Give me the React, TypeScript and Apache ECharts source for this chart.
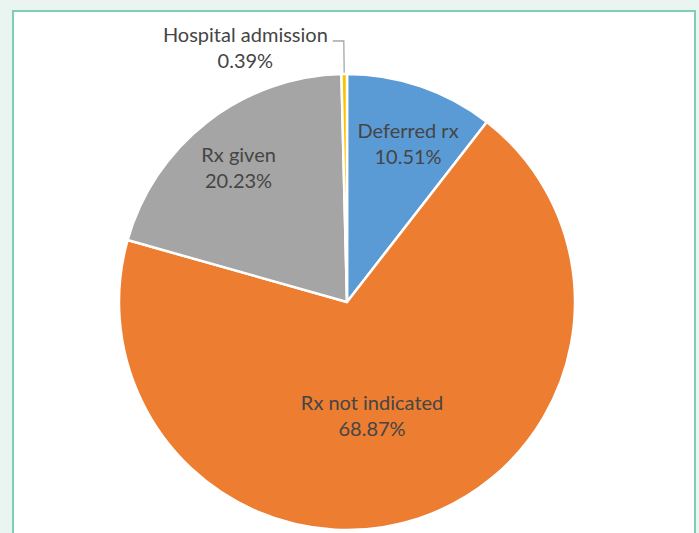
import React, { useEffect, useRef } from "react";
import * as echarts from "echarts";

const CATEGORIES = ["Deferred rx", "Rx not indicated", "Rx given", "Hospital admission"];
const VALUES = [10.51, 68.87, 20.23, 0.39];
const COLORS = ["#5B9BD5", "#ED7D31", "#A5A5A5", "#FFC000"];

// inside-label placement: radial fraction of the radius and angular nudge (deg)
const LABEL_RADIUS: (number | null)[] = [0.75, 0.51, 0.763, null];
const LABEL_NUDGE = [2.1, 5.7, -0.94, 0];

const CX = 347;
const CY = 302;
const R = 228;
const FONT = "Lato";
const TEXT_COLOR = "#454545";

export default function App() {
  const ref = useRef<HTMLDivElement>(null);

  useEffect(() => {
    if (!ref.current) return;
    const chart = echarts.init(ref.current, undefined, { renderer: "svg" });

    const total = VALUES.reduce((a, b) => a + b, 0);
    const mids: number[] = [];
    let acc = 0;
    VALUES.forEach((v) => {
      mids.push(((acc + v / 2) / total) * 360);
      acc += v;
    });

    const data = CATEGORIES.map((name, i) => {
      const item: any = {
        name,
        value: VALUES[i],
        itemStyle: { color: COLORS[i] },
      };
      if (LABEL_RADIUS[i] == null) {
        item.label = {
          position: "outside",
          distanceToLabelLine: 5,
          padding: [12, 0, 0, 0],
          formatter: (p: any) => `{c|${p.name}}\n{c|${Number(p.value).toFixed(2)}%}`,
          rich: {
            c: {
              align: "center",
              fontFamily: FONT,
              fontSize: 20,
              lineHeight: 26,
              color: TEXT_COLOR,
            },
          },
        };
        item.labelLine = {
          show: true,
          length: 33,
          length2: 11,
          smooth: false,
          lineStyle: { color: "#A6A6A6", width: 1.3 },
        };
      }
      return item;
    });

    chart.setOption({
      animation: false,
      backgroundColor: "#EAF5F1",
      graphic: {
        elements: [
          {
            type: "rect",
            z: -10,
            shape: { x: 13, y: 11, width: 682, height: 600 },
            style: { fill: "#FFFFFF", stroke: "#7CCFB4", lineWidth: 2 },
            silent: true,
          },
        ],
      },
      series: [
        {
          type: "pie",
          center: [CX, CY],
          radius: R,
          startAngle: 90,
          clockwise: true,
          avoidLabelOverlap: false,
          itemStyle: { borderColor: "#FFFFFF", borderWidth: 2.5 },
          label: {
            show: true,
            position: "inside",
            fontFamily: FONT,
            fontSize: 20,
            lineHeight: 26,
            color: TEXT_COLOR,
            formatter: (p: any) => `${p.name}\n${Number(p.value).toFixed(2)}%`,
          },
          labelLine: { show: false },
          labelLayout: (p: any) => {
            const i = p.dataIndex;
            const f = LABEL_RADIUS[i];
            if (f == null) return {};
            const a = ((mids[i] + LABEL_NUDGE[i]) * Math.PI) / 180;
            const rr = f * (R - 1);
            return {
              x: CX + rr * Math.sin(a),
              y: CY - rr * Math.cos(a),
              align: "center",
              verticalAlign: "middle",
            };
          },
          emphasis: { disabled: true },
          data,
        },
      ],
    });

    return () => chart.dispose();
  }, []);

  return (
    <div
      ref={ref}
      style={{ position: "fixed", left: 0, top: 0, width: 699, height: 533 }}
    />
  );
}
